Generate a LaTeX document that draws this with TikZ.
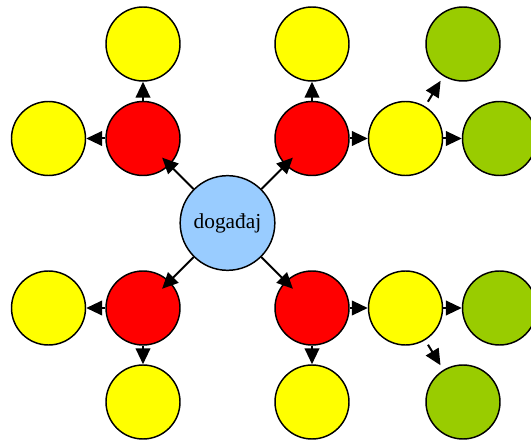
\documentclass[tikz,border=0pt]{standalone}
\usepackage{fontspec}
\setmainfont{Liberation Serif}
\usetikzlibrary{arrows.meta}

\definecolor{skyblue}{HTML}{99CCFF}
\definecolor{leafgreen}{HTML}{99CC00}
\definecolor{ballyellow}{HTML}{FFFF00}
\definecolor{ballred}{HTML}{FF0000}

\begin{document}
\begin{tikzpicture}[x=0.75pt, y=-0.75pt,
    every node/.style={circle, draw=black, line width=1.1pt, inner sep=0pt, minimum size=55.5pt},
    hub/.style={fill=skyblue, minimum size=71pt, font=\fontsize{16}{19}\selectfont},
    redball/.style={fill=ballred},
    yellowball/.style={fill=ballyellow},
    greenball/.style={fill=leafgreen},
    arr/.style={line width=1.5pt, -{Triangle[length=12pt, width=11pt]}}]

    \clip (0,0) rectangle (531,441);

    % The event in the middle
    \node[hub] (ev) at (227.5,223) {događaj};

    % Four red circles round it
    \node[redball] (R1) at (143,138.5) {};
    \node[redball] (R2) at (312,138.5) {};
    \node[redball] (R3) at (143,308) {};
    \node[redball] (R4) at (312,308) {};

    % Yellow circles
    \node[yellowball] (Y1) at (143,44) {};
    \node[yellowball] (Y2) at (48.5,138.5) {};
    \node[yellowball] (Y3) at (312,44) {};
    \node[yellowball] (Y4) at (405.5,138.5) {};
    \node[yellowball] (Y5) at (48.5,308) {};
    \node[yellowball] (Y6) at (143,402) {};
    \node[yellowball] (Y7) at (405.5,308) {};
    \node[yellowball] (Y8) at (312,402) {};

    % Green circles on the right
    \node[greenball] (G1) at (463,44) {};
    \node[greenball] (G2) at (499.5,138.5) {};
    \node[greenball] (G3) at (499.5,308) {};
    \node[greenball] (G4) at (463,402) {};

    % Arrows out of the event (tips run into the red circles)
    \begin{scope}[arr, shorten >=-8pt]
        \draw (ev) -- (R1);
        \draw (ev) -- (R2);
        \draw (ev) -- (R3);
        \draw (ev) -- (R4);
    \end{scope}

    % Red to yellow
    \draw[arr] (R1) -- (Y1);
    \draw[arr] (R1) -- (Y2);
    \draw[arr] (R2) -- (Y3);
    \draw[arr] (R2) -- (Y4);
    \draw[arr] (R3) -- (Y5);
    \draw[arr] (R3) -- (Y6);
    \draw[arr] (R4) -- (Y7);
    \draw[arr] (R4) -- (Y8);

    % Yellow to green
    \draw[arr, shorten <=4pt, shorten >=4pt] (Y4) -- (G1);
    \draw[arr] (Y4) -- (G2);
    \draw[arr] (Y7) -- (G3);
    \draw[arr, shorten <=4pt, shorten >=4pt] (Y7) -- (G4);
\end{tikzpicture}
\end{document}
